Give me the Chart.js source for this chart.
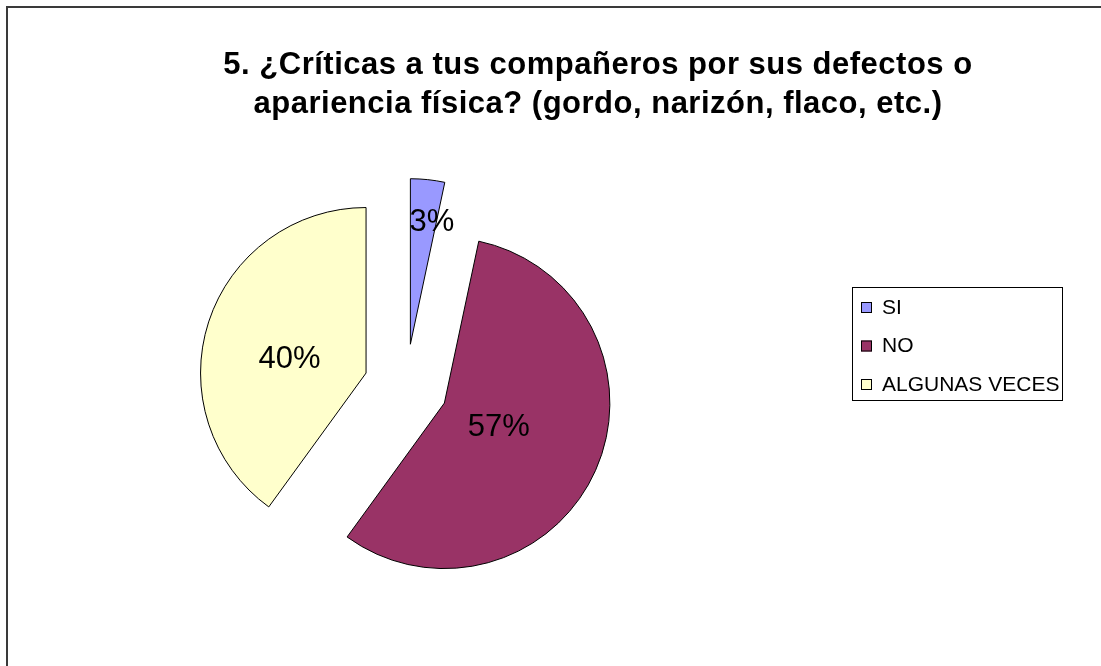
<!DOCTYPE html>
<html>
<head>
<meta charset="utf-8">
<script src="https://cdn.jsdelivr.net/npm/chart.js@4/dist/chart.umd.min.js"></script>
<style>
  html, body { margin: 0; padding: 0; background: #ffffff; }
  #wrap { width: 1101px; height: 666px; }
</style>
</head>
<body>
<div id="wrap"><canvas id="c" width="1101" height="666"></canvas></div>
<script>
// ---- data ----
const categories = ['SI', 'NO', 'ALGUNAS VECES'];
const counts = [1, 17, 12];
const sliceColors = ['#9999FF', '#993366', '#FFFFCC'];
const titleLines = [
  '5. ¿Críticas a tus compañeros por sus defectos o',
  'apariencia física? (gordo, narizón, flaco, etc.)'
];

// ---- style ----
const FONT = "'Liberation Sans', Arial, sans-serif";
const EXPLODE = 42; // px each slice is pulled out along its bisector
const labelPlacement = [ // radial fraction of radius, angle shift (deg) from slice bisector
  { frac: 0.75, shift: 4 },
  { frac: 0.36, shift: 0 },
  { frac: 0.47, shift: -8 }
];

const framePlugin = {
  id: 'frame',
  beforeDraw(chart) {
    const ctx = chart.ctx;
    ctx.save();
    ctx.fillStyle = '#ffffff';
    ctx.fillRect(0, 0, chart.width, chart.height);
    ctx.strokeStyle = '#3a3a3a';
    ctx.lineWidth = 2;
    ctx.beginPath();
    ctx.moveTo(chart.width, 7);
    ctx.lineTo(7, 7);
    ctx.lineTo(7, chart.height);
    ctx.stroke();
    ctx.restore();
  }
};

// Explode every slice outward along its bisector (like an exploded Excel pie)
const explodePlugin = {
  id: 'explode',
  afterDatasetUpdate(chart, args) {
    const meta = chart.getDatasetMeta(args.index);
    meta.data.forEach(arc => {
      const half = (arc.startAngle + arc.endAngle) / 2;
      arc.x += Math.cos(half) * EXPLODE;
      arc.y += Math.sin(half) * EXPLODE;
    });
  }
};

const titlePlugin = {
  id: 'twoLineTitle',
  afterDraw(chart) {
    const ctx = chart.ctx;
    ctx.save();
    ctx.fillStyle = '#000000';
    ctx.font = 'bold 31px ' + FONT;
    try { ctx.letterSpacing = '0.5px'; } catch (e) {}
    ctx.textAlign = 'center';
    ctx.textBaseline = 'alphabetic';
    ctx.fillText(titleLines[0], 598, 74);
    ctx.fillText(titleLines[1], 598, 113);
    ctx.restore();
  }
};

const sliceLabelPlugin = {
  id: 'sliceLabels',
  afterDatasetsDraw(chart) {
    const ctx = chart.ctx;
    const meta = chart.getDatasetMeta(0);
    const vals = chart.data.datasets[0].data;
    const total = vals.reduce((a, b) => a + b, 0);
    ctx.save();
    ctx.fillStyle = '#000000';
    ctx.font = '31px ' + FONT;
    ctx.textAlign = 'center';
    ctx.textBaseline = 'middle';
    meta.data.forEach((arc, i) => {
      const half = (arc.startAngle + arc.endAngle) / 2;
      const lp = labelPlacement[i];
      const ang = half + lp.shift * Math.PI / 180;
      const lx = arc.x + Math.cos(ang) * arc.outerRadius * lp.frac;
      const ly = arc.y + Math.sin(ang) * arc.outerRadius * lp.frac;
      ctx.fillText(Math.round(vals[i] / total * 100) + '%', lx, ly);
    });
    ctx.restore();
  }
};

const legendPlugin = {
  id: 'boxLegend',
  afterDraw(chart) {
    const ctx = chart.ctx;
    const ds = chart.data.datasets[0];
    ctx.save();
    ctx.strokeStyle = '#000000';
    ctx.lineWidth = 1;
    ctx.strokeRect(852.5, 287.5, 210, 113);
    ctx.font = '21px ' + FONT;
    ctx.textAlign = 'left';
    ctx.textBaseline = 'middle';
    chart.data.labels.forEach((lab, i) => {
      const y = 302 + i * 38.5;
      ctx.fillStyle = ds.backgroundColor[i];
      ctx.fillRect(861, y, 11, 11);
      ctx.strokeStyle = '#000000';
      ctx.strokeRect(861.5, y + 0.5, 10, 10);
      ctx.fillStyle = '#000000';
      ctx.fillText(lab, 882, y + 6);
    });
    ctx.restore();
  }
};

new Chart(document.getElementById('c'), {
  type: 'pie',
  data: {
    labels: categories,
    datasets: [{
      data: counts,
      backgroundColor: sliceColors,
      borderColor: '#000000',
      borderWidth: 1,
      hoverBorderWidth: 1,
      offset: 0,
      hoverOffset: 0,
      clip: false
    }]
  },
  options: {
    responsive: false,
    animation: false,
    events: [],
    layout: { padding: { top: 220, bottom: 114, left: 106, right: 395 } },
    plugins: {
      legend: { display: false },
      title: { display: false },
      tooltip: { enabled: false }
    }
  },
  plugins: [framePlugin, explodePlugin, sliceLabelPlugin, titlePlugin, legendPlugin]
});
</script>
</body>
</html>
